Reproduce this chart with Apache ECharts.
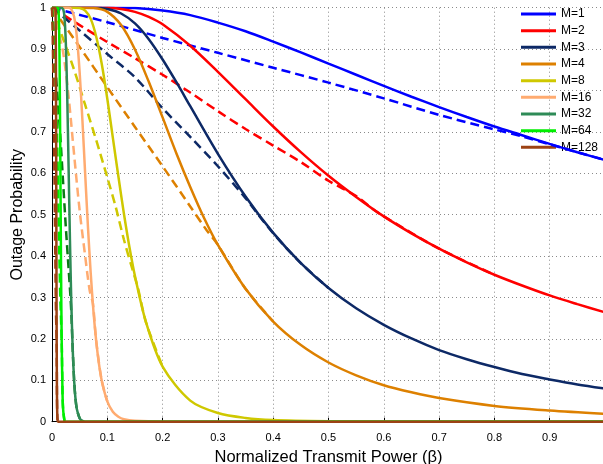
<!DOCTYPE html>
<html>
<head>
<meta charset="utf-8">
<script src="https://cdn.jsdelivr.net/npm/echarts@6/dist/echarts.min.js"></script>
<style>
  html, body { margin: 0; padding: 0; background: #fff; }
  #chart { width: 603px; height: 464px; }
</style>
</head>
<body>
<div id="chart"></div>
<script>
// Outage probability against normalized transmit power, one curve per M.
const seriesNames = ['M=1', 'M=2', 'M=3', 'M=4', 'M=8', 'M=16', 'M=32', 'M=64', 'M=128'];
const xTicks = [0, 0.1, 0.2, 0.3, 0.4, 0.5, 0.6, 0.7, 0.8, 0.9, 1];
const yTicks = [0, 0.1, 0.2, 0.3, 0.4, 0.5, 0.6, 0.7, 0.8, 0.9, 1];

// Solid curves
const betaM1 = [0, 0.05, 0.1, 0.15, 0.2, 0.25, 0.3, 0.35, 0.4, 0.45, 0.5, 0.55, 0.6, 0.65, 0.7, 0.75, 0.8, 0.85, 0.9, 0.95, 1.0];
const outM1  = [1, 1, 1, 0.999, 0.993, 0.982, 0.964, 0.943, 0.918, 0.892, 0.865, 0.838, 0.811, 0.785, 0.760, 0.736, 0.713, 0.692, 0.671, 0.651, 0.632];

const betaM2 = [0, 0.05, 0.1, 0.125, 0.15, 0.175, 0.2, 0.25, 0.3, 0.35, 0.4, 0.45, 0.5, 0.55, 0.6, 0.65, 0.7, 0.75, 0.8, 0.85, 0.9, 0.95, 1.0];
const outM2  = [1, 1, 1, 0.997, 0.990, 0.978, 0.960, 0.908, 0.845, 0.779, 0.713, 0.651, 0.594, 0.543, 0.496, 0.455, 0.418, 0.385, 0.355, 0.329, 0.305, 0.284, 0.264];

const betaM3 = [0, 0.05, 0.075, 0.1, 0.125, 0.15, 0.175, 0.2, 0.225, 0.25, 0.3, 0.35, 0.4, 0.45, 0.5, 0.55, 0.6, 0.65, 0.7, 0.75, 0.8, 0.85, 0.9, 0.95, 1.0];
const outM3  = [1, 1, 1, 0.997, 0.986, 0.962, 0.924, 0.875, 0.820, 0.762, 0.647, 0.544, 0.456, 0.383, 0.323, 0.274, 0.234, 0.201, 0.173, 0.151, 0.132, 0.115, 0.102, 0.090, 0.080];

const betaM4 = [0, 0.05, 0.075, 0.1, 0.125, 0.15, 0.175, 0.2, 0.225, 0.25, 0.275, 0.3, 0.35, 0.4, 0.45, 0.5, 0.55, 0.6, 0.65, 0.7, 0.8, 0.9, 1.0];
const outM4  = [1, 1, 0.999, 0.990, 0.958, 0.899, 0.821, 0.735, 0.648, 0.567, 0.492, 0.427, 0.321, 0.242, 0.185, 0.143, 0.112, 0.088, 0.071, 0.057, 0.038, 0.027, 0.019];

const betaM8 = [0, 0.04, 0.05, 0.06, 0.07, 0.08, 0.09, 0.1, 0.11, 0.12, 0.13, 0.14, 0.15, 0.17, 0.2, 0.25, 0.3, 0.35, 0.4, 0.5, 0.6, 1.0];
const outM8  = [1, 1, 0.999, 0.993, 0.973, 0.930, 0.864, 0.780, 0.686, 0.593, 0.503, 0.422, 0.352, 0.240, 0.133, 0.051, 0.021, 0.009, 0.004, 0.001, 0, 0];

const betaM16 = [0, 0.03, 0.035, 0.04, 0.045, 0.05, 0.055, 0.06, 0.065, 0.07, 0.075, 0.08, 0.085, 0.09, 0.1, 0.11, 0.12, 0.13, 0.15, 0.2, 1.0];
const outM16  = [1, 1, 0.996, 0.978, 0.929, 0.844, 0.728, 0.598, 0.471, 0.359, 0.266, 0.194, 0.139, 0.099, 0.049, 0.024, 0.012, 0.006, 0.002, 0, 0];

const betaM32 = [0, 0.015, 0.02, 0.0225, 0.025, 0.0275, 0.03, 0.0325, 0.035, 0.0375, 0.04, 0.0425, 0.045, 0.05, 0.055, 0.06, 1.0];
const outM32  = [1, 1, 0.997, 0.978, 0.915, 0.788, 0.615, 0.436, 0.284, 0.173, 0.100, 0.055, 0.030, 0.008, 0.002, 0, 0];

const betaM64 = [0, 0.01, 0.0115, 0.0125, 0.0135, 0.0145, 0.0155, 0.0165, 0.0175, 0.019, 0.02, 0.0225, 0.025, 1.0];
const outM64  = [1, 1, 0.996, 0.971, 0.892, 0.741, 0.542, 0.348, 0.198, 0.071, 0.032, 0.003, 0, 0];

const betaM128 = [0, 0.006, 0.0065, 0.007, 0.0075, 0.008, 0.0085, 0.009, 0.0095, 0.01, 0.011, 1.0];
const outM128  = [1, 0.999, 0.985, 0.902, 0.690, 0.406, 0.181, 0.063, 0.017, 0.004, 0, 0];

// Dashed curves
const betaM1Dash = [0, 0.1, 0.2, 0.3, 0.4, 0.5, 0.6, 0.7, 0.8, 0.85, 0.9, 0.95, 1.0];
const outM1Dash  = [1, 0.965, 0.927, 0.891, 0.855, 0.819, 0.781, 0.741, 0.706, 0.689, 0.670, 0.651, 0.632];

const betaM2Dash = [0, 0.05, 0.1, 0.15, 0.2, 0.25, 0.3, 0.35, 0.4, 0.45, 0.5, 0.55, 0.58, 0.6, 0.7, 0.8];
const outM2Dash  = [1, 0.958, 0.917, 0.878, 0.838, 0.795, 0.750, 0.707, 0.667, 0.627, 0.582, 0.545, 0.514, 0.496, 0.418, 0.355];

const betaM3Dash = [0, 0.05, 0.1, 0.15, 0.2, 0.25, 0.3, 0.35, 0.395, 0.45, 0.5];
const outM3Dash  = [1, 0.945, 0.888, 0.832, 0.757, 0.688, 0.617, 0.540, 0.463, 0.383, 0.323];

const betaM4Dash = [0, 0.05, 0.1, 0.15, 0.2, 0.25, 0.28, 0.3, 0.35, 0.4];
const outM4Dash  = [1, 0.905, 0.808, 0.712, 0.617, 0.520, 0.462, 0.427, 0.321, 0.242];

const betaM8Dash = [0, 0.02, 0.04, 0.06, 0.08, 0.1, 0.115, 0.13, 0.145, 0.155, 0.17, 0.2];
const outM8Dash  = [1, 0.925, 0.850, 0.765, 0.680, 0.590, 0.520, 0.440, 0.370, 0.325, 0.240, 0.133];

const betaM16Dash = [0, 0.01, 0.02, 0.03, 0.04, 0.05, 0.06, 0.068, 0.074, 0.08, 0.09, 0.1];
const outM16Dash  = [1, 0.950, 0.893, 0.785, 0.645, 0.510, 0.400, 0.318, 0.285, 0.194, 0.099, 0.049];

const betaM32Dash = [0, 0.0035, 0.005, 0.01, 0.015, 0.02, 0.025, 0.03, 0.033, 0.035, 0.037, 0.04, 0.0425, 0.045, 0.05];
const outM32Dash  = [1, 0.930, 0.880, 0.785, 0.690, 0.580, 0.470, 0.370, 0.310, 0.262, 0.190, 0.100, 0.055, 0.030, 0.008];

const betaM64Dash = [0, 0.003, 0.006, 0.009, 0.011, 0.013, 0.015, 0.0175, 0.019, 0.02, 0.0225];
const outM64Dash  = [1, 0.930, 0.830, 0.700, 0.560, 0.420, 0.300, 0.198, 0.071, 0.032, 0.003];

const betaM128Dash = [0, 0.001, 0.002, 0.003, 0.004, 0.005, 0.006, 0.007, 0.008, 0.0085, 0.009, 0.0095, 0.01];
const outM128Dash  = [1, 0.950, 0.870, 0.770, 0.650, 0.530, 0.400, 0.280, 0.215, 0.181, 0.063, 0.017, 0.004];

const solidBeta = [betaM1, betaM2, betaM3, betaM4, betaM8, betaM16, betaM32, betaM64, betaM128];
const solidOut  = [outM1, outM2, outM3, outM4, outM8, outM16, outM32, outM64, outM128];
const dashBeta  = [betaM1Dash, betaM2Dash, betaM3Dash, betaM4Dash, betaM8Dash, betaM16Dash, betaM32Dash, betaM64Dash, betaM128Dash];
const dashOut   = [outM1Dash, outM2Dash, outM3Dash, outM4Dash, outM8Dash, outM16Dash, outM32Dash, outM64Dash, outM128Dash];

const solidColors = ['#0000ff', '#ff0000', '#0d2966', '#dd8000', '#cfc800', '#ffab70', '#2e8b57', '#00ee00', '#9c4214'];
const dashColors  = ['#0000ff', '#ff0000', '#0d2966', '#dd8000', '#cfc800', '#ffab70', '#0a7a14', '#00ee00', '#9c4214'];

const FONT = '"Liberation Sans", Arial, Helvetica, sans-serif';

function pairs(xs, ys) {
  return xs.map((x, i) => [x, ys[i]]);
}

const series = [];
seriesNames.forEach((name, i) => {
  series.push({
    name: name + ' dashed',
    type: 'line',
    data: pairs(dashBeta[i], dashOut[i]),
    symbol: 'none',
    smooth: 0.3,
    lineStyle: { color: dashColors[i], width: 2.5, type: [9, 5] },
    itemStyle: { color: dashColors[i] },
    z: 2,
    silent: true
  });
});
seriesNames.forEach((name, i) => {
  series.push({
    name: name,
    type: 'line',
    data: pairs(solidBeta[i], solidOut[i]),
    symbol: 'none',
    smooth: 0.3,
    lineStyle: { color: solidColors[i], width: 2.5, type: 'solid' },
    itemStyle: { color: solidColors[i] },
    z: 3,
    silent: true
  });
});

const chart = echarts.init(document.getElementById('chart'), null, { renderer: 'canvas' });
chart.setOption({
  animation: false,
  backgroundColor: '#ffffff',
  grid: { left: 52, top: 7.7, right: -2, bottom: 42.3, containLabel: false, outerBoundsMode: 'none' },
  legend: {
    data: seriesNames,
    orient: 'vertical',
    left: 521,
    top: 8,
    padding: 0,
    icon: 'rect',
    itemWidth: 35,
    itemHeight: 3,
    itemGap: 4.67,
    selectedMode: false,
    z: 1,
    textStyle: { fontFamily: FONT, fontSize: 12, color: '#000', lineHeight: 12 }
  },
  xAxis: {
    type: 'value',
    min: xTicks[0],
    max: xTicks[xTicks.length - 1],
    interval: 0.1,
    name: 'Normalized Transmit Power (β)',
    nameLocation: 'middle',
    nameGap: 21,
    nameTextStyle: { fontFamily: FONT, fontSize: 16.5, color: '#000' },
    axisLine: { show: true, lineStyle: { color: '#000', width: 1 } },
    axisTick: { show: true, inside: true, length: 4, lineStyle: { color: '#000' } },
    axisLabel: { showMaxLabel: false, margin: 11, fontFamily: FONT, fontSize: 11, color: '#000' },
    splitLine: { show: true, lineStyle: { color: '#8a8a8a', width: 1, type: [1, 3] } }
  },
  yAxis: {
    type: 'value',
    min: yTicks[0],
    max: yTicks[yTicks.length - 1],
    interval: 0.1,
    name: 'Outage Probability',
    nameLocation: 'middle',
    nameGap: 26,
    nameMoveOverlap: false,
    nameTextStyle: { fontFamily: FONT, fontSize: 16, color: '#000' },
    axisLine: { show: true, lineStyle: { color: '#000', width: 1 } },
    axisTick: { show: true, inside: true, length: 4, lineStyle: { color: '#000' } },
    axisLabel: { margin: 6, fontFamily: FONT, fontSize: 11, color: '#000' },
    splitLine: { show: true, lineStyle: { color: '#8a8a8a', width: 1, type: [1, 3] } }
  },
  series: series
});
</script>
</body>
</html>
